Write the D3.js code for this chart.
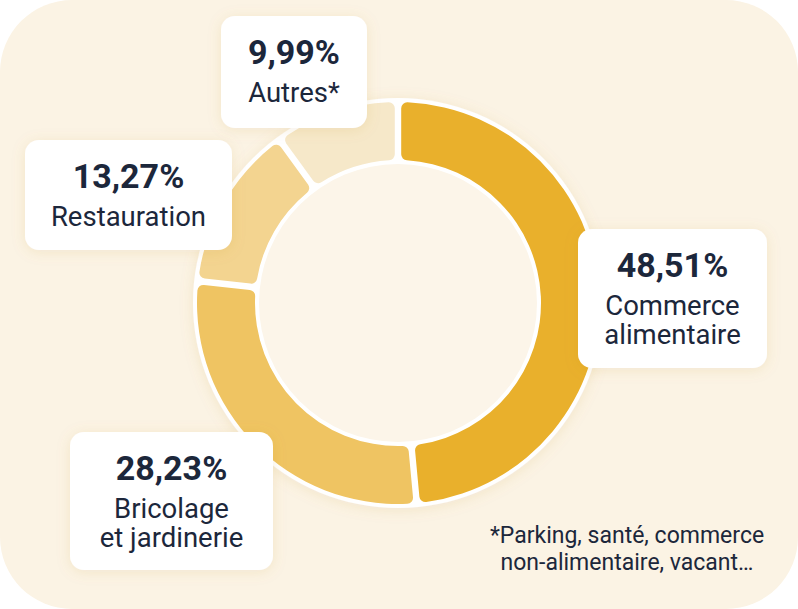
<!DOCTYPE html>
<meta charset="utf-8">
<script src="https://d3js.org/d3.v7.min.js"></script>
<style>
  body { margin: 0; background: #fff; }
  text { font-family: Roboto, "Noto Sans", sans-serif; fill: #1c273b; }
</style>
<div id="chart"></div>
<script>
// data
const categories = ["Commerce alimentaire", "Bricolage et jardinerie", "Restauration", "Autres*"];
const values = [48.51, 28.23, 13.27, 9.99];
const labelLines = [["Commerce", "alimentaire"], ["Bricolage", "et jardinerie"], ["Restauration"], ["Autres*"]];
const colors = ["#e9b02c", "#efc462", "#f3d490", "#f6e8c9"];
const footnote = ["*Parking, santé, commerce", "non-alimentaire, vacant…"];

// where each label box sits (x, y, w, h)
const boxes = [
  [578, 229, 189, 139],
  [70, 432, 203, 138],
  [25, 140, 207, 110],
  [221, 16, 146, 112]
];

const W = 798, H = 609;
const cx = 398, cy = 303;
const outerR = 201, innerR = 143;

const svg = d3.select("#chart").append("svg")
  .attr("width", W).attr("height", H);

const defs = svg.append("defs");
const shadow = defs.append("filter").attr("id", "shadow")
  .attr("x", "-30%").attr("y", "-30%").attr("width", "160%").attr("height", "160%");
shadow.append("feDropShadow")
  .attr("dx", 0).attr("dy", 2).attr("stdDeviation", 7)
  .attr("flood-color", "#b98a2a").attr("flood-opacity", 0.13);

// cream background card
svg.append("rect")
  .attr("width", W).attr("height", H)
  .attr("rx", 72)
  .attr("fill", "#fbf3e4");

const g = svg.append("g").attr("transform", `translate(${cx},${cy})`);

// white ring behind the slices
g.append("circle").attr("r", outerR + 4).attr("fill", "#fff").attr("filter", "url(#shadow)");

const pie = d3.pie().sort(null).value(d => d);
const arc = d3.arc()
  .innerRadius(innerR).outerRadius(outerR)
  .padAngle(0.026).cornerRadius(6);

g.selectAll("path.slice")
  .data(pie(values))
  .join("path")
  .attr("class", "slice")
  .attr("d", arc)
  .attr("fill", (d, i) => colors[i]);

// hole
g.append("circle").attr("r", innerR - 4).attr("fill", "#fcf5e9");

// label boxes
const fmt = v => d3.format(".2f")(v).replace(".", ",") + "%";
const lab = svg.selectAll("g.label")
  .data(values)
  .join("g")
  .attr("class", "label")
  .attr("transform", (d, i) => `translate(${boxes[i][0]},${boxes[i][1]})`);

lab.append("rect")
  .attr("width", (d, i) => boxes[i][2])
  .attr("height", (d, i) => boxes[i][3])
  .attr("rx", 14)
  .attr("fill", "#fff")
  .attr("filter", "url(#shadow)");

lab.append("text")
  .attr("x", (d, i) => boxes[i][2] / 2)
  .attr("y", 48)
  .attr("text-anchor", "middle")
  .style("font-size", "34px")
  .style("font-weight", "700")
  .text(d => fmt(d));

lab.each(function (d, i) {
  d3.select(this).selectAll("text.cat")
    .data(labelLines[i])
    .join("text")
    .attr("class", "cat")
    .attr("x", boxes[i][2] / 2)
    .attr("y", (t, j) => 86 + j * 28.5)
    .attr("text-anchor", "middle")
    .style("font-size", "27.5px")
    .text(t => t);
});

// footnote
svg.selectAll("text.note")
  .data(footnote)
  .join("text")
  .attr("class", "note")
  .attr("x", 627)
  .attr("y", (d, i) => 543 + i * 27)
  .attr("text-anchor", "middle")
  .style("font-size", "23px")
  .text(d => d);
</script>
